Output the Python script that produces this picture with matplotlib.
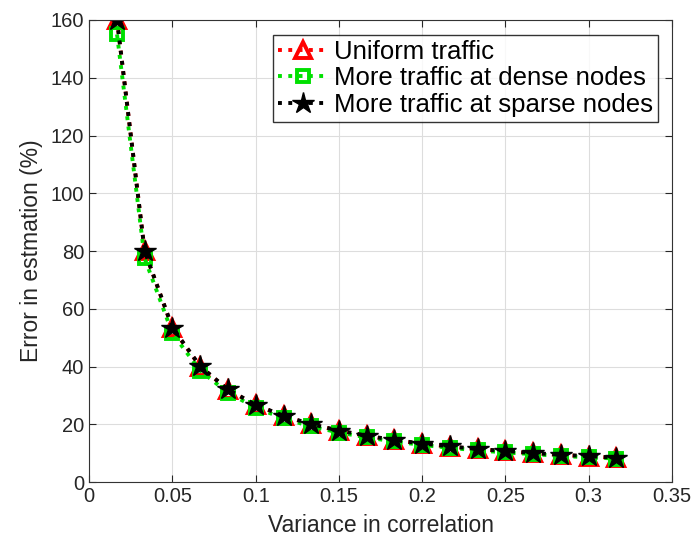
import numpy as np
import matplotlib
matplotlib.use('Agg')
import matplotlib.pyplot as plt

plt.rcParams['font.family'] = ['Liberation Sans', 'DejaVu Sans']

# --- data ---
variance = [0.0167, 0.0333, 0.05, 0.0667, 0.0833, 0.1, 0.1167, 0.1333, 0.15,
            0.1667, 0.1833, 0.2, 0.2167, 0.2333, 0.25, 0.2667, 0.2833, 0.3, 0.3167]
uniform = [160, 80, 53.3, 40, 32, 26.7, 22.9, 20, 17.8, 16, 14.5, 13.3,
           12.3, 11.4, 10.7, 10, 9.4, 8.9, 8.4]
dense = [155, 77.5, 51.5, 38.6, 31, 25.8, 22.1, 19.3, 17.2, 15.5, 14.1, 12.9,
         11.9, 11.0, 10.3, 9.7, 9.1, 8.6, 8.2]
sparse = [160, 80, 53.5, 40.1, 32.1, 26.8, 23, 20.1, 17.9, 16.1, 14.6, 13.4,
          12.4, 11.5, 10.8, 10.1, 9.5, 9.0, 8.5]

fig = plt.figure(figsize=(6.97, 5.4), dpi=100)
ax = fig.add_axes([0.128, 0.107, 0.836, 0.856])

ax.plot(variance, uniform, ':', color='red', lw=2.8, marker='^', ms=12,
        mfc='none', mec='red', mew=2.8, label='Uniform traffic')
ax.plot(variance, dense, ':', color='#00e000', lw=2.8, marker='s', ms=8,
        mfc='none', mec='#00e000', mew=2.8, label='More traffic at dense nodes')
ax.plot(variance, sparse, ':', color='black', lw=2.8, marker='*', ms=16,
        mfc='black', mec='black', label='More traffic at sparse nodes')

ax.set_xlim(0, 0.35)
ax.set_ylim(0, 160)
ax.set_xticks(np.arange(0, 0.351, 0.05))
ax.set_xticklabels(['0', '0.05', '0.1', '0.15', '0.2', '0.25', '0.3', '0.35'])
ax.set_yticks(np.arange(0, 161, 20))
ax.tick_params(direction='in', top=True, right=True, labelsize=14.5, length=5,
               colors='#262626', labelcolor='#262626')
ax.grid(True, color='#dddddd', lw=0.8)
ax.set_axisbelow(True)
for s in ax.spines.values():
    s.set_color('#333333')

ax.set_xlabel('Variance in correlation', fontsize=16.5, color='#262626', labelpad=6)
ax.set_ylabel('Error in estmation (%)', fontsize=16.5, color='#262626', labelpad=6)

leg = ax.legend(loc='upper right', bbox_to_anchor=(0.99, 0.985), fontsize=18.5,
                frameon=True, fancybox=False, edgecolor='black',
                handlelength=2.0, handletextpad=0.2, borderpad=0.2,
                labelspacing=0.1, borderaxespad=0.3)
leg.get_frame().set_linewidth(1.0)

fig.savefig('out.png', dpi=100)
